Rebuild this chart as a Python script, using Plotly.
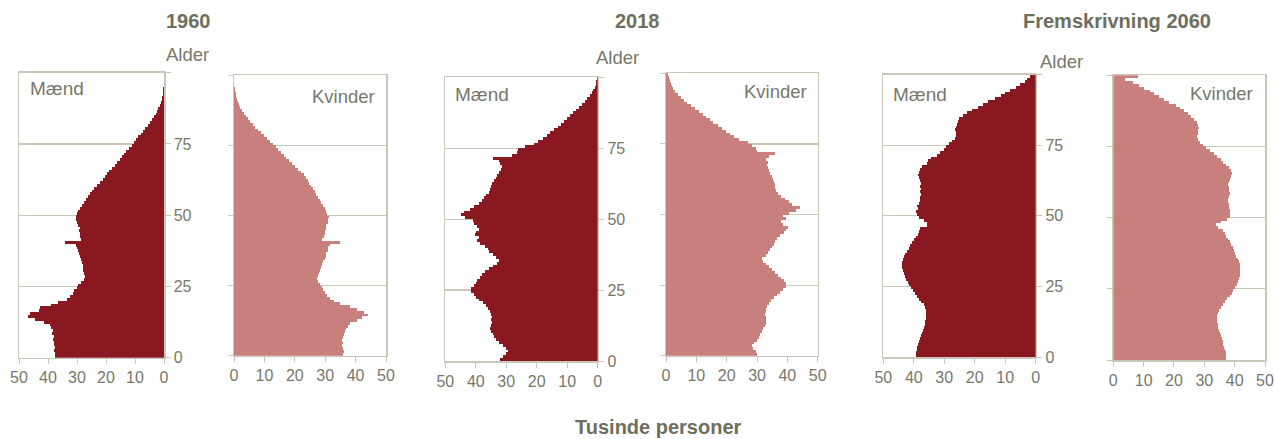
import plotly.graph_objects as go

W, H = 1274, 439

ages = list(range(100))

men_1960 = [37.5, 37.6, 37.8, 37.5, 37.8, 38.0, 38.3, 37.8, 38.5, 38.4,
            39.0, 39.2, 41.5, 44.5, 47.0, 46.2, 43.0, 42.6, 39.0, 36.5,
            33.5, 32.5, 31.5, 31.0, 30.0, 29.5, 28.5, 27.5, 27.2, 27.5,
            27.8, 28.0, 28.0, 28.3, 28.5, 29.0, 29.3, 29.6, 30.0, 30.5,
            34.0, 28.5, 29.0, 29.0, 29.2, 29.0, 29.5, 30.0, 30.5, 30.5,
            30.0, 29.5, 28.8, 28.3, 27.5, 27.0, 26.3, 25.5, 24.8, 24.0,
            23.0, 22.0, 21.0, 20.3, 19.5, 18.8, 17.8, 17.0, 16.2, 15.3,
            14.5, 13.8, 13.0, 12.0, 11.2, 10.3, 9.5, 8.8, 8.0, 7.2,
            6.4, 5.6, 4.8, 4.1, 3.5, 2.9, 2.4, 1.9, 1.5, 1.1,
            0.8, 0.6, 0.4, 0.3, 0.2, 0.1, 0.1, 0.05, 0.03, 0.02]

women_1960 = [36.0, 36.2, 35.8, 35.6, 35.9, 35.5, 36.0, 36.2, 36.5, 37.0,
              37.5, 38.0, 40.5, 42.0, 44.2, 42.8, 40.5, 38.0, 35.0, 33.0,
              31.5, 30.5, 30.0, 29.3, 28.8, 28.2, 27.6, 27.4, 27.6, 28.0,
              28.2, 28.6, 29.0, 29.3, 29.8, 30.1, 30.4, 30.8, 31.0, 31.5,
              35.0, 28.8, 29.5, 29.8, 30.0, 30.2, 30.4, 30.8, 31.0, 31.2,
              30.7, 30.3, 29.8, 29.3, 28.7, 28.2, 27.7, 27.1, 26.5, 26.0,
              25.4, 24.8, 24.2, 23.6, 23.0, 22.0, 21.0, 20.0, 19.0, 18.0,
              17.2, 16.5, 15.5, 14.5, 13.7, 12.8, 11.8, 10.8, 9.8, 8.8,
              7.8, 7.0, 6.2, 5.4, 4.6, 3.9, 3.2, 2.6, 2.1, 1.7,
              1.3, 1.0, 0.7, 0.5, 0.35, 0.25, 0.15, 0.1, 0.06, 0.04]

men_2018 = [32.0, 31.0, 30.0, 29.5, 30.0, 31.0, 32.5, 33.5, 34.0, 34.5,
            35.0, 35.3, 35.0, 34.8, 35.0, 34.8, 35.0, 35.3, 36.0, 36.5,
            37.5, 38.8, 40.0, 40.5, 41.5, 41.5, 40.5, 40.0, 39.5, 38.5,
            38.0, 37.0, 35.5, 34.5, 33.0, 32.5, 33.5, 34.5, 35.5, 36.0,
            37.0, 38.5, 39.5, 39.0, 40.3, 40.0, 38.8, 39.5, 40.5, 41.0,
            43.5, 45.0, 44.0, 42.0, 40.5, 39.0, 38.0, 37.3, 36.5, 35.5,
            35.3, 35.0, 34.8, 34.0, 33.5, 33.0, 32.5, 31.8, 31.5, 32.0,
            32.5, 34.5, 28.0, 26.5, 26.0, 24.0, 21.0, 19.5, 18.0, 16.5,
            15.5, 14.2, 13.0, 12.0, 11.0, 10.0, 9.0, 8.0, 7.0, 6.0,
            5.0, 4.2, 3.4, 2.6, 2.0, 1.4, 0.9, 0.6, 0.4, 0.2]

women_2018 = [30.0, 29.5, 28.8, 28.5, 29.0, 30.0, 30.5, 31.0, 31.5, 32.0,
              32.6, 33.0, 33.0, 32.8, 32.6, 32.8, 33.0, 33.2, 34.0, 34.5,
              35.5, 36.5, 37.5, 38.5, 39.5, 39.5, 38.8, 38.0, 37.0, 36.0,
              35.0, 34.0, 33.0, 32.0, 31.8, 32.8, 33.5, 34.3, 35.0, 35.5,
              36.0, 36.5, 37.5, 39.0, 39.5, 40.3, 38.5, 38.0, 39.5, 38.5,
              40.5, 43.0, 44.2, 41.5, 40.5, 39.2, 38.0, 37.0, 36.3, 36.0,
              35.9, 35.5, 35.3, 35.0, 34.3, 34.0, 33.5, 33.2, 33.5, 33.0,
              34.0, 36.0, 30.0, 29.8, 28.5, 27.0, 24.0, 22.5, 21.0, 19.8,
              18.5, 17.0, 15.6, 14.5, 13.3, 12.2, 10.8, 9.5, 8.3, 7.0,
              5.8, 4.8, 3.8, 3.0, 2.4, 1.9, 1.5, 1.2, 0.9, 0.8]

men_2060 = [39.2, 39.2, 39.0, 38.8, 38.6, 38.3, 38.0, 37.7, 37.4, 37.0,
            36.7, 36.4, 36.2, 36.0, 35.9, 35.9, 36.0, 36.3, 36.8, 37.5,
            38.2, 39.0, 39.7, 40.3, 40.9, 41.5, 42.0, 42.5, 43.0, 43.3,
            43.6, 43.8, 43.9, 43.8, 43.6, 43.2, 42.8, 42.3, 41.7, 41.1,
            40.5, 39.8, 39.2, 38.6, 38.3, 38.0, 35.8, 35.5, 36.5, 38.2,
            38.8, 39.3, 38.6, 38.9, 38.2, 37.9, 37.9, 37.6, 38.0, 37.7,
            37.9, 37.6, 37.9, 38.4, 38.7, 38.3, 37.8, 37.2, 35.8, 35.2,
            34.2, 32.5, 31.5, 30.2, 29.5, 28.5, 27.5, 26.4, 26.3, 26.2,
            26.5, 26.0, 25.8, 25.5, 25.0, 23.8, 22.5, 20.8, 19.0, 17.2,
            15.5, 13.5, 11.5, 10.0, 8.5, 6.5, 5.0, 3.6, 2.8, 1.8]

women_2060 = [37.2, 37.3, 37.0, 36.8, 36.6, 36.3, 36.0, 35.7, 35.4, 35.1,
              34.8, 34.6, 34.4, 34.2, 34.2, 34.3, 34.5, 35.0, 35.6, 36.2,
              36.8, 37.5, 38.3, 39.0, 39.6, 40.2, 40.7, 41.1, 41.4, 41.6,
              41.8, 41.9, 41.9, 41.7, 41.4, 41.0, 40.5, 40.1, 39.7, 39.3,
              38.8, 38.3, 37.8, 37.3, 36.8, 36.2, 34.5, 34.0, 35.5, 37.5,
              38.4, 38.6, 38.4, 38.0, 38.1, 37.8, 37.9, 38.2, 38.4, 38.0,
              38.1, 37.8, 38.0, 38.6, 38.9, 39.2, 38.8, 38.0, 37.2, 36.3,
              35.5, 34.3, 33.2, 31.8, 30.6, 29.6, 28.6, 27.9, 27.6, 27.8,
              28.0, 28.2, 27.9, 27.6, 26.5, 25.5, 24.5, 23.2, 22.0, 20.8,
              18.5, 16.8, 15.0, 13.5, 12.0, 10.2, 8.5, 6.5, 4.0, 8.2]

titles = ["1960", "2018", "Fremskrivning 2060"]
x_ticks = [0, 10, 20, 30, 40, 50]
age_ticks = [0, 25, 50, 75, 100]
age_ticktext = ["0", "25", "50", "75", ""]

MEN_COLOR = "#8a1820"
WOMEN_COLOR = "#c8807d"
LINE_COLOR = "#c9c7b8"
TEXT_COLOR = "#77776a"
TITLE_COLOR = "#6e6e5e"
FONT = "Liberation Sans, Arial, sans-serif"

# panel pixel boxes: (x0, x1, ytop, ybottom)
boxes = [
    ((19, 164, 72.7, 357.7), (234, 386, 75.3, 355.7)),
    ((445.3, 597.7, 77.3, 361), (666, 817.7, 73.3, 355.7)),
    ((883.3, 1035.7, 74.7, 357), (1113.3, 1265, 75.3, 360)),
]
series = [(men_1960, women_1960), (men_2018, women_2018), (men_2060, women_2060)]


def xdom(x0, x1):
    return [x0 / W, x1 / W]


def ydom(yt, yb):
    return [1 - yb / H, 1 - yt / H]


fig = go.Figure()
ages_mid = [a + 0.5 for a in ages]
layout = {}
n = 0
for i in range(3):
    for j in range(2):
        n += 1
        box = boxes[i][j]
        vals = series[i][j]
        xa = "x" if n == 1 else f"x{n}"
        ya = "y" if n == 1 else f"y{n}"
        fig.add_trace(go.Bar(
            x=vals, y=ages_mid, orientation="h", width=1,
            marker=dict(color=MEN_COLOR if j == 0 else WOMEN_COLOR, line=dict(width=0)),
            xaxis=xa, yaxis=ya, showlegend=False, hoverinfo="skip",
        ))
        xkey = "xaxis" if n == 1 else f"xaxis{n}"
        ykey = "yaxis" if n == 1 else f"yaxis{n}"
        layout[xkey] = dict(
            domain=xdom(box[0], box[1]), anchor=ya,
            range=[50, 0] if j == 0 else [0, 50],
            tickvals=x_ticks, ticks="outside", ticklen=5, tickcolor=LINE_COLOR,
            showline=True, linecolor=LINE_COLOR, linewidth=1.5, mirror=True,
            showgrid=False, zeroline=False, automargin=False,
            tickfont=dict(family=FONT, size=16, color=TEXT_COLOR),
            fixedrange=True,
        )
        layout[ykey] = dict(
            domain=ydom(box[2], box[3]), anchor=xa,
            range=[0, 100], side="right" if j == 0 else "left",
            tickvals=age_ticks, ticktext=age_ticktext,
            showticklabels=(j == 0),
            ticks="outside", ticklen=5, tickcolor=LINE_COLOR,
            showline=True, linecolor=LINE_COLOR, linewidth=1.5, mirror=True,
            showgrid=True, gridcolor=LINE_COLOR, gridwidth=1.2, zeroline=False,
            automargin=False,
            tickfont=dict(family=FONT, size=16, color=TEXT_COLOR),
            fixedrange=True,
        )

annotations = []
title_pos = [(188, 21), (638, 21), (1117, 21)]
for t, (px, py) in zip(titles, title_pos):
    annotations.append(dict(text=f"<b>{t}</b>", x=px / W, y=1 - py / H, xref="paper", yref="paper",
                            showarrow=False, xanchor="center", yanchor="middle",
                            font=dict(family=FONT, size=20, color=TITLE_COLOR)))
alder_pos = [(187, 55), (617, 58), (1061, 62)]
for px, py in alder_pos:
    annotations.append(dict(text="Alder", x=px / W, y=1 - py / H, xref="paper", yref="paper",
                            showarrow=False, xanchor="center", yanchor="middle",
                            font=dict(family=FONT, size=18.5, color=TEXT_COLOR)))
maend_pos = [(28, 88), (453, 94), (891, 94)]
for px, py in maend_pos:
    annotations.append(dict(text="Mænd", x=px / W, y=1 - py / H, xref="paper", yref="paper",
                            showarrow=False, xanchor="left", yanchor="middle",
                            font=dict(family=FONT, size=19, color=TEXT_COLOR)))
kv_pos = [(377, 96), (809, 91), (1255, 93)]
for px, py in kv_pos:
    annotations.append(dict(text="Kvinder", x=px / W, y=1 - py / H, xref="paper", yref="paper",
                            showarrow=False, xanchor="right", yanchor="middle",
                            font=dict(family=FONT, size=18.5, color=TEXT_COLOR)))
annotations.append(dict(text="<b>Tusinde personer</b>", x=658 / W, y=1 - 427 / H, xref="paper", yref="paper",
                        showarrow=False, xanchor="center", yanchor="middle",
                        font=dict(family=FONT, size=20, color=TITLE_COLOR)))

fig.update_layout(
    width=W, height=H, margin=dict(l=0, r=0, t=0, b=0, pad=0, autoexpand=False),
    paper_bgcolor="white", plot_bgcolor="white",
    bargap=0, barmode="overlay",
    annotations=annotations,
    **layout,
)

fig.write_html("out.html", config={"displayModeBar": False, "staticPlot": True},
               post_script="document.body.style.margin='0';document.body.style.overflow='hidden';")
